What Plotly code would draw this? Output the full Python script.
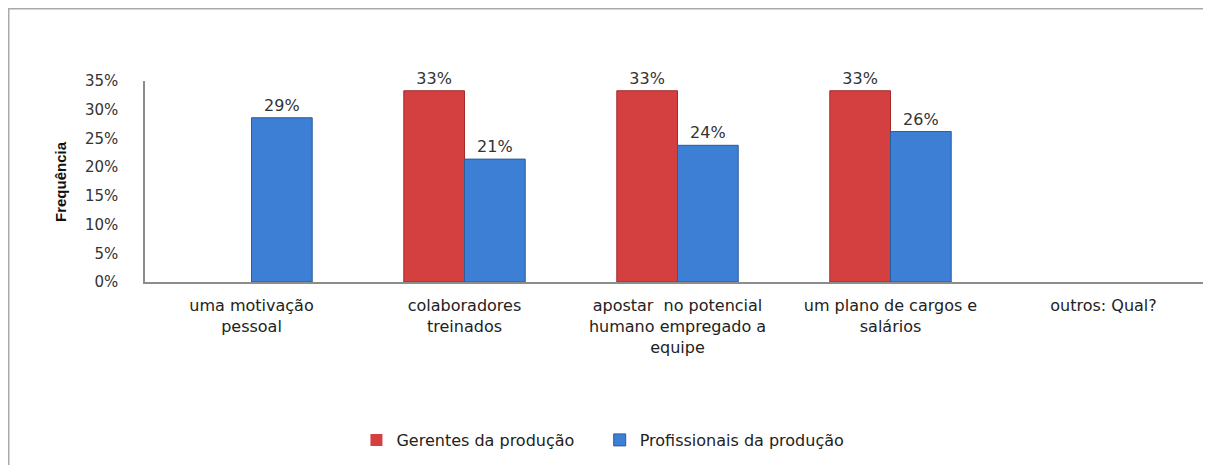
import plotly.graph_objects as go

categories = ["uma motivação<br>pessoal", "colaboradores<br>treinados",
              "apostar  no potencial<br>humano empregado a<br>equipe",
              "um plano de cargos e<br>salários", "outros: Qual?"]
gerentes = [0, 0.333, 0.333, 0.333, 0]
gerentes_txt = ["", "33%", "33%", "33%", ""]
profissionais = [0.286, 0.214, 0.238, 0.262, 0]
profissionais_txt = ["29%", "21%", "24%", "26%", ""]
yticks = [0, 0.05, 0.10, 0.15, 0.20, 0.25, 0.30, 0.35]
yticklabels = ["0%", "5%", "10%", "15%", "20%", "25%", "30%", "35%"]

FONT = "DejaVu Sans"
W, H = 1203, 457
L, R, T, B = 137, 1, 73, 183
pw = W - L - R
ph = H - T - B
BASE = H - B  # figure pixel y of the x axis

fig = go.Figure()
fig.add_trace(go.Bar(
    x=categories, y=gerentes, name="Gerentes da produção\u00a0\u00a0\u00a0\u00a0",
    text=gerentes_txt, textposition="outside",
    marker=dict(color="#d44040",
                line=dict(color="#a52a2a", width=[0 if v == 0 else 1 for v in gerentes])),
    textfont=dict(family=FONT, size=16, color="#333333"), cliponaxis=False,
))
fig.add_trace(go.Bar(
    x=categories, y=profissionais, name="Profissionais da produção",
    text=profissionais_txt, textposition="outside",
    marker=dict(color="#3d7fd4",
                line=dict(color="#2a5d9c", width=[0 if v == 0 else 1 for v in profissionais])),
    textfont=dict(family=FONT, size=16, color="#333333"), cliponaxis=False,
))

fig.update_layout(
    width=W, height=H, barmode="group", bargap=0.43, bargroupgap=0,
    margin=dict(l=L, r=R, t=T, b=B, pad=0),
    plot_bgcolor="white", paper_bgcolor="white",
    font=dict(family=FONT, size=16, color="#222222"),
    showlegend=True,
    legend=dict(orientation="h", x=0.43, xanchor="center", y=(BASE - 432) / ph,
                yanchor="middle", font=dict(family=FONT, size=16, color="#222222"),
                itemwidth=30, traceorder="normal"),
    xaxis=dict(showline=True, linecolor="#8c8c8c", linewidth=1.5, showgrid=False,
               ticks="", ticklabelstandoff=8,
               tickfont=dict(family=FONT, size=16, color="#222222"),
               fixedrange=True),
    yaxis=dict(range=[0, 0.35], tickvals=yticks, ticktext=yticklabels,
               showline=True, linecolor="#8c8c8c", linewidth=1.5, showgrid=False,
               ticks="", ticklabelstandoff=22,
               tickfont=dict(family=FONT, size=15, color="#333333"),
               zeroline=False),
    shapes=[dict(type="rect", xref="paper", yref="paper",
                 x0=(0 - L) / pw, x1=(1230 - L) / pw,
                 y0=(BASE - 480) / ph, y1=(BASE - 0) / ph,
                 line=dict(color="#aaaaaa", width=3), fillcolor="rgba(0,0,0,0)",
                 layer="below")],
    annotations=[dict(text="<b>Frequência</b>", xref="paper", yref="paper",
                      x=(52 - L) / pw, y=(BASE - 174) / ph, xanchor="center",
                      yanchor="middle", textangle=-90, showarrow=False,
                      font=dict(family="Liberation Sans Narrow, Liberation Sans", size=15,
                                color="#111111"))],
)

fig.write_html("out.html")
